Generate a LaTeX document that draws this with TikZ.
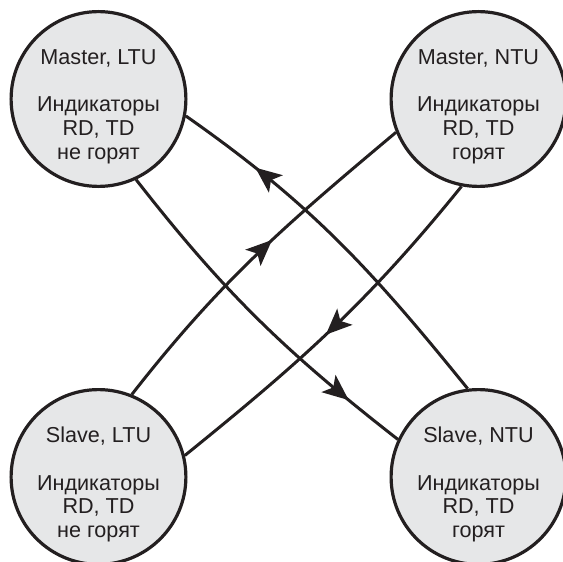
\documentclass[tikz,border=0pt]{standalone}
\usepackage{fontspec}
\setmainfont{Liberation Sans}
\usetikzlibrary{positioning, arrows.meta, decorations.markings}
\definecolor{ink}{RGB}{35,31,32}
\definecolor{disc}{RGB}{230,231,232}

\begin{document}
\begin{tikzpicture}[node distance=189pt and 190pt,on grid,
		station/.style={circle,draw=ink,fill=disc,line width=1.6pt,minimum size=87.4pt,inner sep=0pt},
		caption/.style={align=center,text=ink,inner sep=0pt,font=\fontsize{10.8}{11.8}\selectfont},
		link/.style={color=ink,line width=1.5pt},
		midarrow/.style={postaction={decorate},decoration={markings,
			mark=at position #1 with {\arrow{Stealth[length=13pt,width=11pt,inset=3pt]}}}}]
		\useasboundingbox (-49.25pt,49.5pt) rectangle (232.25pt,-231.5pt);
		\node[station] (mltu) {};
		\node[station] (mntu) [right=of mltu] {};
		\node[station] (sltu) [below=of mltu] {};
		\node[station] (sntu) [below=of mntu] {};
		\node[caption] (mltu-txt) at ([yshift=-3.8pt]mltu.center) {Master, LTU\\[12pt]Индикаторы\\RD, TD\\не горят};
		\node[caption] (mntu-txt) at ([yshift=-3.8pt]mntu.center) {Master, NTU\\[12pt]Индикаторы\\RD, TD\\горят};
		\node[caption] (sltu-txt) at ([yshift=-3.8pt]sltu.center) {Slave, LTU\\[12pt]Индикаторы\\RD, TD\\не горят};
		\node[caption] (sntu-txt) at ([yshift=-3.8pt]sntu.center) {Slave, NTU\\[12pt]Индикаторы\\RD, TD\\горят};
		\path[link]
			(sntu.97) edge [out=129,in=-35,midarrow=0.78] (mltu.-11)
			(mltu.-65) edge [out=-52,in=142,midarrow=0.83] (sntu.155)
			(sltu.68) edge [out=52,in=-140,midarrow=0.56] (mntu.-158)
			(mntu.-101) edge [out=-129,in=39,midarrow=0.52] (sltu.14);
	\end{tikzpicture}
\end{document}
